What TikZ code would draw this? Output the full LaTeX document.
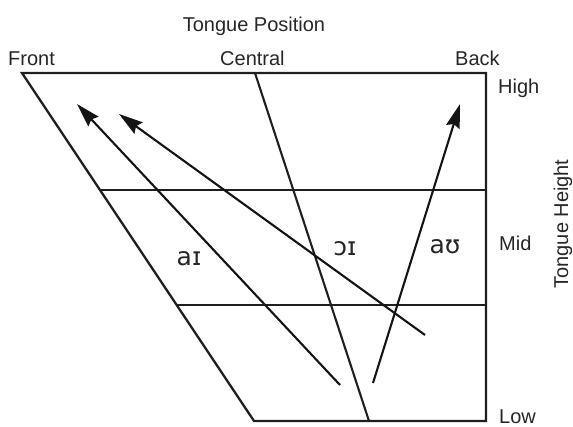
\documentclass[tikz,border=0pt]{standalone}
\usepackage{fontspec}
\setmainfont{Liberation Sans}
\newfontfamily\ipafont{DejaVu Sans}
\usetikzlibrary{arrows.meta}
\tikzset{
  frame/.style={line width=2.3pt, draw=black!88, line cap=round, line join=miter},
  grid/.style={line width=2.1pt, draw=black!88},
  glide/.style={line width=2.1pt, draw=black!92, -{Stealth[length=24pt,width=14pt,inset=3pt]}},
  lab/.style={font=\fontsize{20}{24}\selectfont, text=black!85, inner sep=0pt},
  ipa/.style={font=\ipafont\fontsize{25}{30}\selectfont, text=black!85, inner sep=0pt}
}
\begin{document}
\begin{tikzpicture}[x=1pt,y=-1pt]
\useasboundingbox (0,0) rectangle (573,426);
% frame corners
\coordinate (TL) at (22,73);
\coordinate (TR) at (486,73);
\coordinate (BR) at (486,421);
\coordinate (BL) at (254,421);
\coordinate (M1L) at (100,190);
\coordinate (M1R) at (486,190);
\coordinate (M2L) at (177.3,305);
\coordinate (M2R) at (486,305);
\coordinate (CT) at (255,73);
\coordinate (CB) at (369,421);
\draw[frame] (TL) -- (TR) -- (BR) -- (BL) -- cycle;
\draw[grid] (M1L) -- (M1R);
\draw[grid] (M2L) -- (M2R);
\draw[grid] (CT) -- (CB);
% diphthong glides
\coordinate (aiS) at (340,385);
\coordinate (aiE) at (77,104);
\coordinate (oiS) at (425,335);
\coordinate (oiE) at (119,114);
\coordinate (auS) at (373,383);
\coordinate (auE) at (460,104);
\draw[glide] (aiS) -- (aiE);
\draw[glide] (oiS) -- (oiE);
\draw[glide] (auS) -- (auE);
% labels
\node[lab, anchor=base] (tp) at (254,31) {Tongue Position};
\node[lab, anchor=base west] (front) at (8,65) {Front};
\node[lab, anchor=base west] (central) at (220,65) {Central};
\node[lab, anchor=base west] (back) at (455,65) {Back};
\node[lab, anchor=base west] (high) at (498,93) {High};
\node[lab, anchor=base west] (mid) at (499,250) {Mid};
\node[lab, anchor=base west] (low) at (499,423) {Low};
\node[lab, rotate=90, anchor=base] (th) at (568,224) {Tongue Height};
\node[ipa] (ai) at (189,259) {aɪ};
\node[ipa] (oi) at (345,249) {ɔɪ};
\node[ipa] (au) at (445,247) {aʊ};
\end{tikzpicture}
\end{document}
